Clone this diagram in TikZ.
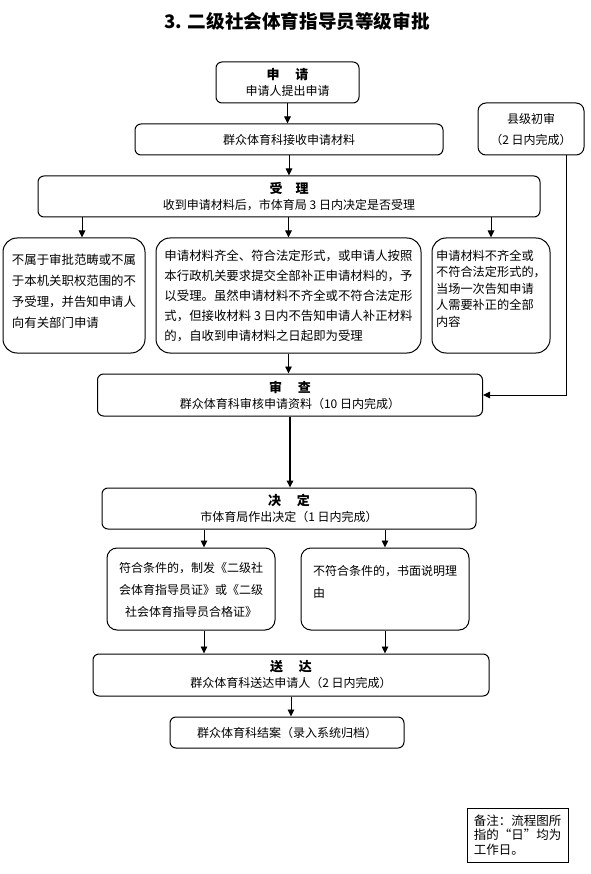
\documentclass[tikz,border=0pt]{standalone}
\usepackage{fontspec}
\setmainfont{Noto Sans CJK SC}
\usetikzlibrary{arrows.meta, positioning}
\newcommand{\boxhead}[1]{{\fontsize{13}{16}\selectfont\bfseries #1}}

\begin{document}
\begin{tikzpicture}[
  x=1pt, y=-1pt,
  box/.style={draw, rounded corners=#1, line width=1pt, align=center,
              inner sep=3pt, font=\fontsize{12}{16}\selectfont},
  box/.default=6pt,
  memo/.style={box=#1, align=left, font=\fontsize{12.4}{20}\selectfont},
  memo/.default=14pt,
  arr/.style={-{Triangle[length=7pt, width=6.5pt]}, line width=0.9pt}
]
\useasboundingbox (0,0) rectangle (590,874);

%% Title
\node[font=\fontsize{18.6}{22}\selectfont\bfseries] (title) at (297,21)
  {3. 二级社会体育指导员等级审批};

%% Main steps
\node[box, minimum width=143, minimum height=41] (apply) at (287.5,82.5)
  {\boxhead{申\hspace{1.2em}请}\\申请人提出申请};
\node[box, minimum width=308, minimum height=31] (recv) at (289,139.5)
  {群众体育科接收申请材料};
\node[box=8pt, minimum width=106, minimum height=52,
      font=\fontsize{12}{21}\selectfont] (county) at (531,129)
  {县级初审\\（2 日内完成）};
\node[box, minimum width=502, minimum height=41] (accept) at (289,196.5)
  {\boxhead{受\hspace{1em}理}\\收到申请材料后，市体育局 3 日内决定是否受理};

%% Acceptance outcomes
\node[memo, minimum width=142, minimum height=115, text depth=10pt,
      font=\fontsize{12.4}{21}\selectfont] (reject) at (74,295.5)
  {不属于审批范畴或不属\\于本机关职权范围的不\\予受理，并告知申请人\\向有关部门申请};
\node[memo, minimum width=265, minimum height=115, text depth=0pt] (ok) at (288.5,295.5)
  {申请材料齐全、符合法定形式，或申请人按照\\本行政机关要求提交全部补正申请材料的，予\\以受理。虽然申请材料不齐全或不符合法定形\\式，但接收材料 3 日内不告知申请人补正材料\\的，自收到申请材料之日起即为受理};
\node[memo, minimum width=118, minimum height=115, text depth=15pt,
      font=\fontsize{12.2}{16.5}\selectfont] (fix) at (491,295.5)
  {申请材料不齐全或\\不符合法定形式的，\\当场一次告知申请\\人需要补正的全部\\内容};

%% Review and decision
\node[box, minimum width=385, minimum height=42] (review) at (290,395)
  {\boxhead{审\hspace{1.2em}查}\\群众体育科审核申请资料（10 日内完成）};
\node[box, minimum width=374, minimum height=41] (decide) at (289,508.5)
  {\boxhead{决\hspace{1.2em}定}\\市体育局作出决定（1 日内完成）};
\node[memo=10pt, align=center, minimum width=168, minimum height=82,
      text depth=0pt, font=\fontsize{12}{22}\selectfont] (grant) at (191,589)
  {符合条件的，制发《二级社\\会体育指导员证》或《二级\\社会体育指导员合格证》};
\node[memo=10pt, minimum width=168, minimum height=82, text depth=15pt,
      font=\fontsize{12}{22}\selectfont] (deny) at (385,589)
  {不符合条件的，书面说明理\\由};

%% Delivery and closing
\node[box, minimum width=396, minimum height=42] (deliver) at (291,675)
  {\boxhead{送\hspace{1.2em}达}\\群众体育科送达申请人（2 日内完成）};
\node[box, minimum width=234, minimum height=31] (close) at (287,732.5)
  {群众体育科结案（录入系统归档）};

%% Note
\node[box=0pt, align=left, minimum width=101, minimum height=54,
      font=\fontsize{12.5}{14.5}\selectfont] (note) at (517.5,835)
  {备注：流程图所\\指的“日”均为\\工作日。};

%% Connectors
\coordinate (rj) at ([xshift=8pt]reject.north);
\coordinate (gr) at ([xshift=13pt]grant.north);
\coordinate (cl) at ([xshift=35pt]county.south);

\draw[arr] (apply.south) -- (apply.south |- recv.north);
\draw[arr] (recv.south) -- (recv.south |- accept.north);
\draw[arr] (rj |- accept.south) -- (rj);
\draw[arr] (ok.north |- accept.south) -- (ok.north);
\draw[arr] (fix.north |- accept.south) -- (fix.north);
\draw[arr] (ok.south) -- (ok.south |- review.north);
\draw[arr] (cl) |- (review.east);
\draw[arr, line width=1.8pt] (review.south) -- (review.south |- decide.north);
\draw[arr] (gr |- decide.south) -- (gr);
\draw[arr] (deny.north |- decide.south) -- (deny.north);
\draw[arr] (gr |- grant.south) -- (gr |- deliver.north);
\draw[arr] (deny.south) -- (deny.south |- deliver.north);
\draw[arr] (deliver.south) -- (deliver.south |- close.north);

\end{tikzpicture}
\end{document}
